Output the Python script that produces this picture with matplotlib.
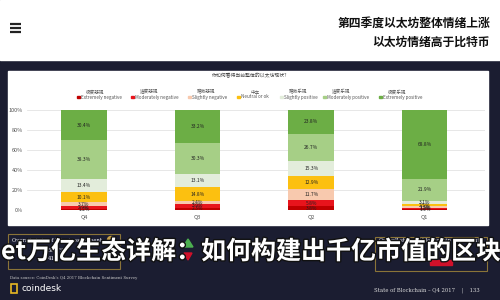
import numpy as np
import matplotlib.pyplot as plt
import matplotlib.patheffects as pe
from matplotlib.patches import Rectangle, Polygon, Circle

plt.rcParams['font.family'] = ['Noto Sans CJK SC', 'DejaVu Sans']

# data (bottom to top of each stacked bar)
quarters = ['Q4', 'Q3', 'Q2', 'Q1']
extremely_negative = [1.2, 2.3, 3.8, 1.0]
moderately_negative = [2.9, 3.9, 5.8, 1.2]
slightly_negative = [3.7, 2.4, 11.7, 1.5]
neutral = [10.1, 14.8, 12.9, 2.5]
slightly_positive = [13.4, 13.1, 15.3, 3.1]
moderately_positive = [38.3, 30.3, 26.7, 21.9]
extremely_positive = [30.4, 33.2, 23.8, 68.8]

series = [extremely_negative, moderately_negative, slightly_negative, neutral,
          slightly_positive, moderately_positive, extremely_positive]
names_en = ['Extremely negative', 'Moderately negative', 'Slightly negative', 'Neutral or ok',
            'Slightly positive', 'Moderately positive', 'Extremely positive']
names_zh = ['极度悲观', '适度悲观', '略微悲观', '中立', '略微乐观', '适度乐观', '极度乐观']
colors = ['#c00000', '#e8141c', '#f8c9ae', '#fcc010', '#e3eddb', '#a6cf86', '#6cae45']
yticks = [0, 20, 40, 60, 80, 100]

fig = plt.figure(figsize=(5, 3), dpi=100)
navy = '#1b1d31'

# page background in pixel coords
bg = fig.add_axes([0, 0, 1, 1], zorder=0)
bg.set_xlim(0, 500)
bg.set_ylim(300, 0)
bg.axis('off')
bg.add_patch(Rectangle((0, 0), 500, 300, color=navy))
bg.add_patch(Rectangle((0, 0), 500, 60, color='white'))
bg.add_patch(Rectangle((8, 71), 480, 154, color='white'))

# header
for yy in [24, 28, 32]:
    bg.plot([10, 21], [yy, yy], color='#222222', lw=1.6, solid_capstyle='butt')
bg.text(490, 23, '第四季度以太坊整体情绪上涨', ha='right', va='center',
        fontsize=8.5, fontweight='bold', color='#111111')
bg.text(490, 42, '以太坊情绪高于比特币', ha='right', va='center',
        fontsize=8.5, fontweight='bold', color='#111111')

# chart title and legend
bg.text(250, 76, '你如何看待当前整体的以太坊现状?', ha='center', va='center',
        fontsize=3.5, color='#444444')
leg_x = [77, 131, 188, 237, 280, 323, 379]
for x, c, en, zh in zip(leg_x, colors, names_en, names_zh):
    bg.add_patch(Rectangle((x, 95.5), 2.5, 2.5, color=c))
    bg.text(x + 4, 97, en, ha='left', va='center', fontsize=3.3, color='#555555')
    bg.text(x + 18, 92, zh, ha='center', va='center', fontsize=3.3, color='#555555')

# stacked bars
ax = fig.add_axes([27 / 500, 90 / 300, 458 / 500, 100 / 300], zorder=1)
ax.set_facecolor('none')
x = np.arange(len(quarters))
bottom = np.zeros(len(quarters))
for vals, c in zip(series, colors):
    vals = np.array(vals)
    ax.bar(x, vals, bottom=bottom, width=0.4, color=c, zorder=2)
    for xi, v, b in zip(x, vals, bottom):
        ax.text(xi, b + v / 2, f'{v:.1f}%', ha='center', va='center',
                fontsize=3.5, color='#222222', zorder=3)
    bottom += vals
ax.set_xlim(-0.5, 3.53)
ax.set_ylim(0, 100)
ax.set_yticks(yticks)
ax.set_yticklabels([f'{t}%' for t in yticks])
ax.set_xticks(x)
ax.set_xticklabels(quarters)
ax.tick_params(length=0, labelsize=4, colors='#555555', pad=3)
ax.grid(axis='y', color='#dddddd', lw=0.5, zorder=0)
for s in ax.spines.values():
    s.set_visible(False)

# bottom boxes
gold = '#8a7438'
bg.add_patch(Rectangle((8, 234), 112, 35, fill=False, ec=gold, lw=0.8))
bg.add_patch(Rectangle((375, 237), 112, 34, fill=False, ec=gold, lw=0.8))
bg.text(12, 240, 'Overall state of bitcoin sentiment', fontsize=3.8, color='white',
        va='center', family='DejaVu Serif')
bg.add_patch(Circle((111, 240), 3.5, color='#c9a24a'))
bg.text(48, 251, '56.0%', fontsize=4, color='white', va='center', family='DejaVu Serif')
bg.text(48, 259, '41.2%', fontsize=4, color='white', va='center', family='DejaVu Serif')
bg.text(379, 241, 'Overall state of blockchain sentiment', fontsize=3.8, color='white',
        va='center', family='DejaVu Serif')
bg.add_patch(Rectangle((430, 260), 22, 5, color='#d0102a'))
bg.add_patch(Polygon([[183, 247], [193, 247], [188, 239]], color='#4caf50'))
bg.add_patch(Polygon([[184, 253], [192, 253], [188, 260]], color='#d0102a'))
bg.text(205, 244, '82.1', fontsize=4.5, color='white', va='center', family='DejaVu Serif')
bg.text(205, 258, '17.7%', fontsize=4.5, color='white', va='center', family='DejaVu Serif')

# overlay headline
bg.text(1, 252, 'et万亿生态详解：如何构建出千亿市值的区块', ha='left', va='center',
        fontsize=18, fontweight='bold', color='white',
        path_effects=[pe.withStroke(linewidth=2, foreground='#111111')])

# footer
bg.text(10, 278, "Data source: CoinDesk's Q4 2017 Blockchain Sentiment Survey",
        fontsize=2.8, color='#cccccc', va='center', family='DejaVu Serif')
bg.add_patch(Rectangle((11, 284), 6, 9, fill=False, ec='#e8b923', lw=1.2))
bg.text(22, 288.5, 'coindesk', fontsize=6.5, color='white', va='center', family='DejaVu Sans')
bg.text(374, 290, 'State of Blockchain – Q4 2017    |    133', fontsize=3.8,
        color='#dddddd', va='center', family='DejaVu Serif')

fig.savefig('out.png', dpi=100)
